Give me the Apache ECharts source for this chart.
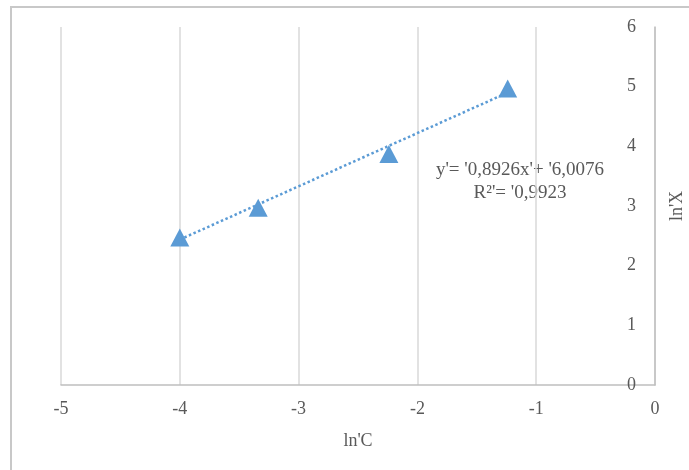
<!DOCTYPE html>
<html>
<head>
<meta charset="utf-8">
<script src="https://cdn.jsdelivr.net/npm/echarts@6/dist/echarts.min.js"></script>
<style>
  html, body { margin: 0; padding: 0; background: #ffffff; }
  #chart { width: 689px; height: 470px; }
</style>
</head>
<body>
<div id="chart"></div>
<script>
// Measured points: ln C against ln X
const lnC = [-4.0, -3.34, -2.24, -1.24];
const lnX = [2.47, 2.97, 3.87, 4.97];

// Linear fit shown on the chart
const slope = 0.8926;
const intercept = 6.0076;
const rSquared = 0.9923;

const xTicks = { min: -5, max: 0, step: 1 };
const yTicks = { min: 0, max: 6, step: 1 };

const eqText = "y'= '0,8926x'+ '6,0076";
const r2Text = "R²'= '0,9923";

const blue = '#5B9BD5';
const textColor = '#595959';
const serif = '"Liberation Serif", "Times New Roman", serif';

const points = lnC.map((x, i) => [x, lnX[i]]);
const xLo = Math.min(...lnC), xHi = Math.max(...lnC);
const fitLine = [[xLo, slope * xLo + intercept], [xHi, slope * xHi + intercept]];

const chart = echarts.init(document.getElementById('chart'), null, { renderer: 'canvas' });
chart.setOption({
  animation: false,
  backgroundColor: '#ffffff',
  grid: { left: 61, right: 34, top: 27, bottom: 85, containLabel: false, outerBoundsMode: 'none' },
  xAxis: {
    type: 'value',
    min: xTicks.min, max: xTicks.max, interval: xTicks.step,
    name: "ln'C",
    nameLocation: 'middle',
    nameGap: 47,
    nameTextStyle: { fontFamily: serif, fontSize: 18, color: textColor },
    axisLine: { show: true, onZero: false, lineStyle: { color: '#bfbfbf', width: 1.5 } },
    axisTick: { show: false },
    axisLabel: { fontFamily: serif, fontSize: 18, color: textColor, margin: 15 },
    splitLine: { show: true, lineStyle: { color: '#d9d9d9', width: 1.5 } }
  },
  yAxis: {
    type: 'value',
    position: 'right',
    min: yTicks.min, max: yTicks.max, interval: yTicks.step,
    name: "ln'X",
    nameLocation: 'middle',
    nameRotate: 90,
    nameGap: 13,
    nameTextStyle: { fontFamily: serif, fontSize: 18, color: textColor },
    axisLine: { show: true, onZero: false, lineStyle: { color: '#bfbfbf', width: 1.5 } },
    axisTick: { show: false },
    axisLabel: { inside: true, margin: 19, fontFamily: serif, fontSize: 18, color: textColor },
    splitLine: { show: false }
  },
  graphic: [
    {
      type: 'rect',
      shape: { x: 11, y: 7, width: 720, height: 520 },
      style: { fill: 'none', stroke: '#c8c8c8', lineWidth: 2 },
      silent: true
    },
    {
      type: 'text',
      x: 520, y: 170,
      style: { text: eqText, fontFamily: serif, fontSize: 19, fill: textColor, align: 'center', verticalAlign: 'middle' }
    },
    {
      type: 'text',
      x: 520, y: 193,
      style: { text: r2Text, fontFamily: serif, fontSize: 19, fill: textColor, align: 'center', verticalAlign: 'middle' }
    }
  ],
  series: [
    {
      name: 'points',
      type: 'scatter',
      data: points,
      symbol: 'triangle',
      symbolSize: [19, 18],
      itemStyle: { color: blue, opacity: 1 },
      z: 2
    },
    {
      name: 'fit',
      type: 'line',
      data: fitLine,
      symbol: 'none',
      lineStyle: { color: blue, width: 2.5, type: [2.5, 2.5] },
      z: 3
    }
  ]
});
</script>
</body>
</html>
